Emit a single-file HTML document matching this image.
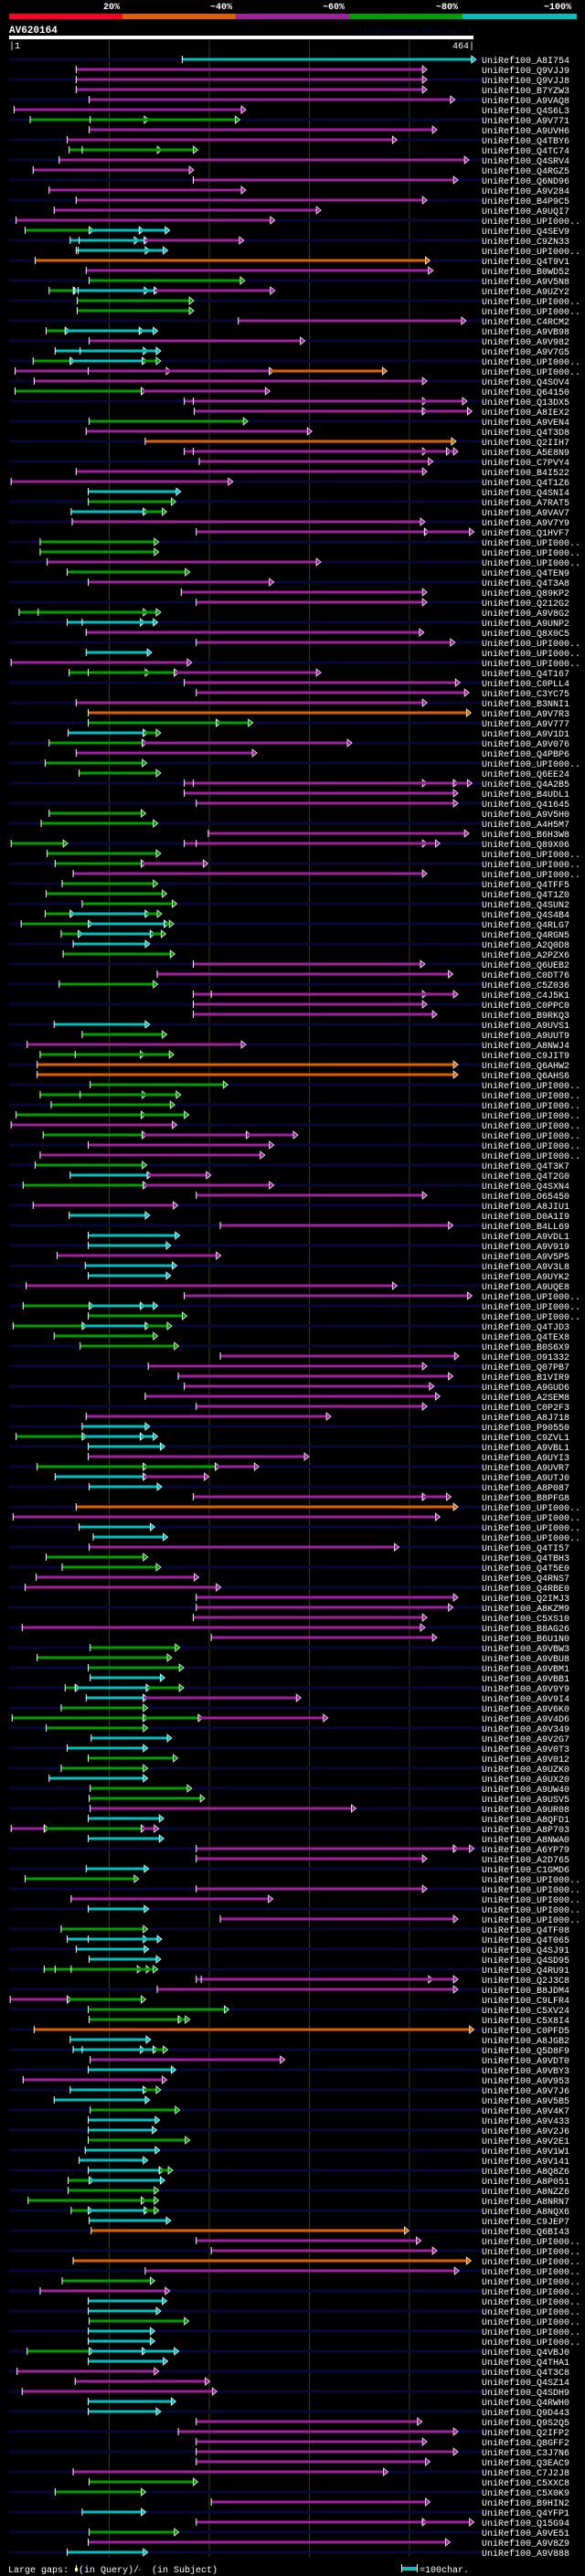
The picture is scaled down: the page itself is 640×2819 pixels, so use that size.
<!DOCTYPE html>
<html><head><meta charset="utf-8"><style>
html,body{margin:0;padding:0;background:#000;}
svg{display:block;}
text{font-family:"Liberation Mono",monospace;}
</style></head><body>
<svg id="chart" width="640" height="2819" viewBox="0 0 640 2819" xmlns="http://www.w3.org/2000/svg">
<rect x="0" y="0" width="640" height="2819" fill="#000"/>
<g font-weight="bold" font-size="10" fill="#fff">
<text x="113" y="10">20%</text>
<text x="230" y="10">~40%</text>
<text x="353" y="10">~60%</text>
<text x="477" y="10">~80%</text>
<text x="595" y="10">~100%</text>
<rect x="10" y="15" width="124" height="6" fill="#ff0020"/>
<rect x="134" y="15" width="124" height="6" fill="#e06000"/>
<rect x="258" y="15" width="124" height="6" fill="#a020a0"/>
<rect x="382" y="15" width="124" height="6" fill="#00a000"/>
<rect x="506" y="15" width="125" height="6" fill="#00c0c0"/>
</g>
<text x="10" y="36" font-size="11" font-weight="bold" fill="#fff">AV620164</text>
<text x="516" y="37" font-size="9" fill="#0a0a40" text-anchor="end">AlignView.pm Beta rel.7</text>
<rect x="10" y="39" width="508" height="4" fill="#fff"/>
<text x="10" y="53" font-size="10" fill="#fff">|1</text>
<text x="519" y="53" font-size="10" fill="#fff" text-anchor="end">464|</text>
<g id="grid"></g>
<g id="rows"></g>
<g font-size="10" fill="#fff">
<text x="9" y="2815">Large gaps:</text>
<rect x="82" y="2810" width="3" height="4" fill="#ffff80"/>
<rect x="83" y="2807" width="1" height="3" fill="#ffff80"/>
<text x="86" y="2815">(in Query)/</text>
<text x="150" y="2815" fill="#00c0c0">-</text>
<text x="166" y="2815">(in Subject)</text>
<rect x="439" y="2809" width="17" height="4" fill="#00c0c0"/>
<rect x="439" y="2806" width="1" height="9" fill="#fff"/>
<rect x="456" y="2806" width="1" height="9" fill="#fff"/>
<text x="459" y="2815">=100char.</text>
</g>
</svg>
<script>
const queryLength = 464;
const gridTicks = [100, 200, 300, 400];
const colorKeys = {c:"#00c0c0", g:"#00a000", m:"#a020a0", o:"#e06000", r:"#ff0020"};
const hitIds = ["A8I754","Q9VJJ9","Q9VJJ8","B7YZW3","A9VAQ8","Q4S6L3","A9V771","A9UVH6","Q4TBY6","Q4TC74","Q4SRV4","Q4RGZ5","Q6ND96","A9V284","B4P9C5","A9UQI7","UPI000..","Q4SEV9","C9ZN33","UPI000..","Q4T9V1","B0WD52","A9V5N8","A9UZY2","UPI000..","UPI000..","C4RCM2","A9VB98",
"A9V982","A9V7G5","UPI000..","UPI000..","Q4SOV4","Q64150","Q13DX5","A8IEX2","A9VEN4","Q4T3D8","Q2IIH7","A5E8N9","C7PVY4","B4I522","Q4T1Z6","Q4SNI4","A7RAT5","A9VAV7","A9V7Y9","Q1HVF7","UPI000..","UPI000..","UPI000..","Q4TEN9","Q4T3A8","Q89KP2","Q212G2","A9V8G2",
"A9UNP2","Q8X0C5","UPI000..","UPI000..","UPI000..","Q4T167","C0PLL4","C3YC75","B3NNI1","A9V7R3","A9V777","A9V1D1","A9V076","Q4PBP6","UPI000..","Q6EE24","Q4A2B5","B4UDL1","Q41645","A9V5H0","A4H5M7","B6H3W8","Q89X06","UPI000..","UPI000..","UPI000..","Q4TFF5","Q4T1Z0",
"Q4SUN2","Q4S4B4","Q4RLG7","Q4RGN5","A2Q0D8","A2PZX6","Q6UEB2","C0DT76","C5Z036","C4J5K1","C0PPC0","B9RKQ3","A9UVS1","A9UUT9","A8NWJ4","C9JIT9","Q6AHW2","Q6AHS6","UPI000..","UPI000..","UPI000..","UPI000..","UPI000..","UPI000..","UPI000..","UPI000..","Q4T3K7","Q4T2G0",
"Q4SXN4","O65450","A8JIU1","D0A1I9","B4LL69","A9VDL1","A9V919","A9V5P5","A9V3L8","A9UYK2","A9UQE8","UPI000..","UPI000..","UPI000..","Q4TJD3","Q4TEX8","B0S6X9","O91332","Q07PB7","B1VIR9","A9GUD6","A2SEM8","C0P2F3","A8J718","P90550","C9ZVL1","A9VBL1","A9UYI3",
"A9UVR7","A9UTJ0","A8P087","B8PFG8","UPI000..","UPI000..","UPI000..","UPI000..","Q4TI57","Q4TBH3","Q4T5E0","Q4RNS7","Q4RBE0","Q2IMJ3","A8KZM9","C5XS10","B8AG26","B6U1N0","A9VBW3","A9VBU8","A9VBM1","A9VBB1","A9V9Y9","A9V9I4","A9V6K0","A9V4D6","A9V349","A9V2G7",
"A9V0T3","A9V012","A9UZK0","A9UX20","A9UW40","A9USV5","A9UR08","A8QFD1","A8P703","A8NWA0","A6YP79","A2D765","C1GMD6","UPI000..","UPI000..","UPI000..","UPI000..","UPI000..","Q4TF08","Q4T065","Q4SJ91","Q4SD95","Q4RU91","Q2J3C8","B8JDM4","C9LFR4","C5XV24","C5X8I4",
"C0PFD5","A8JGB2","Q5D8F9","A9VDT0","A9VBY3","A9V953","A9V7J6","A9V5B5","A9V4K7","A9V433","A9V2J6","A9V2E1","A9V1W1","A9V141","A8Q8Z6","A8P051","A8NZZ6","A8NRN7","A8NQX6","C9JEP7","Q6BI43","UPI000..","UPI000..","UPI000..","UPI000..","UPI000..","UPI000..","UPI000..",
"UPI000..","UPI000..","UPI000..","UPI000..","Q4VBJ0","Q4THA1","Q4T3C8","Q4SZ14","Q4SDH9","Q4RWH0","Q9D443","Q9S2Q5","Q2IFP2","Q8GFF2","C3J7N6","Q3EAC9","C7J2J8","C5XXC8","C5X0K9","B9HIN2","Q4YFP1","Q15G94","A9VE51","A9V8Z9","A9V888"];
const hitHsps = [
[["c",173,462]],[["m",67,413]],[["m",67,413]],[["m",67,413]],[["m",80,441]],[["m",5,232]],[["g",21,135],["g",81,226]],[["m",80,423]],[["m",58,383]],[["g",60,148],["g",73,184]],
[["m",50,455]],[["m",24,180]],[["m",184,444]],[["m",40,232]],[["m",67,413]],[["m",45,307]],[["m",7,261]],[["g",16,80],["c",80,130],["c",130,156]],[["c",61,125],["c",70,135],["m",135,230]],[["c",67,136],["c",69,154]],
[["o",26,416]],[["m",77,419]],[["g",80,231]],[["g",40,64],["c",65,135],["c",69,145],["m",145,261]],[["g",68,180]],[["g",68,180]],[["m",229,452]],[["g",37,56],["c",56,130],["c",130,144]],
[["m",80,291]],[["c",46,134],["c",71,147]],[["g",24,61],["c",61,133],["g",133,147]],[["m",6,157],["m",79,260],["o",260,373]],[["m",25,413]],[["g",6,132],["m",132,256]],[["m",175,413],["m",184,453]],[["m",185,413],["m",413,458]],[["g",80,234]],[["m",77,298]],
[["o",136,442]],[["m",175,413],["m",184,437],["m",437,444]],[["m",190,419]],[["m",67,413]],[["m",2,219]],[["c",79,167]],[["g",79,162]],[["c",62,134],["g",134,153]],[["m",63,411]],[["m",187,415],["m",415,460]],
[["g",31,145]],[["g",31,145]],[["m",38,307]],[["g",58,176]],[["m",79,260]],[["m",172,413]],[["m",187,413]],[["g",10,134],["g",29,147]],
[["c",58,131],["c",73,144]],[["m",77,410]],[["m",187,441]],[["c",77,138]],[["m",2,178]],[["g",60,136],["g",79,165],["m",165,307]],[["m",175,446]],[["m",187,455]],[["m",67,413]],[["o",79,457]],
[["g",79,207],["g",207,239]],[["c",59,134],["g",134,147]],[["g",40,133],["m",133,338]],[["m",67,243]],[["g",36,133]],[["g",70,147]],[["m",175,413],["m",184,444],["m",444,458]],[["m",175,444]],[["m",187,444]],[["g",40,132]],
[["g",32,144]],[["m",199,455]],[["g",2,54],["m",175,413],["m",187,426]],[["g",38,147]],[["g",46,132],["m",132,194]],[["m",64,413]],[["g",53,144]],[["g",37,153]],
[["g",73,163]],[["g",36,61],["c",61,136],["g",136,148]],[["g",12,79],["c",79,155],["g",155,160]],[["g",52,69],["c",69,141],["g",141,152]],[["c",64,136]],[["g",54,161]],[["m",184,411]],[["m",148,439]],[["g",50,144]],[["m",184,413],["m",202,444]],
[["m",184,413]],[["m",184,423]],[["c",45,136]],[["g",73,153]],[["m",18,232]],[["g",31,131],["g",66,160]],[["o",28,444]],[["o",28,444]],[["g",81,214]],[["g",31,133],["g",71,167]],
[["g",42,161]],[["g",7,132],["g",132,175]],[["m",2,163]],[["g",34,133],["m",133,237],["m",237,284]],[["m",79,260]],[["m",31,251]],[["g",26,133]],[["c",61,138],["m",138,197]],
[["g",14,134],["m",134,260]],[["m",187,413]],[["m",24,164]],[["c",60,136]],[["m",211,439]],[["c",79,166]],[["c",79,157]],[["m",48,207]],[["c",76,163]],[["c",79,157]],
[["m",17,383]],[["m",175,458]],[["g",14,80],["c",80,131],["c",131,144]],[["g",79,173]],[["g",4,73],["c",73,136],["g",136,158]],[["g",45,144]],[["g",71,165]],[["m",211,445]],[["m",139,413]],[["m",169,439]],
[["m",175,420]],[["m",136,426]],[["m",187,413]],[["m",77,317]],[["c",73,136]],[["g",7,73],["c",73,131],["c",131,144]],[["c",79,151]],[["m",79,295]],
[["g",28,134],["g",134,206],["m",206,245]],[["c",46,134],["m",134,195]],[["c",80,148]],[["m",184,413],["m",413,437]],[["o",67,444]],[["m",4,426]],[["c",70,141]],[["c",84,154]],[["m",80,385]],[["g",37,134]],
[["g",53,147]],[["m",27,185]],[["m",16,207]],[["m",187,444]],[["m",187,439]],[["m",184,413]],[["m",13,411]],[["m",202,423]],[["g",81,166]],[["g",28,158]],
[["g",79,170]],[["c",81,151]],[["g",56,66],["c",66,137],["g",137,170]],[["c",77,134],["m",134,287]],[["g",52,134]],[["g",3,134],["g",134,189],["m",189,314]],[["g",37,134]],[["c",82,158]],
[["c",58,134]],[["g",79,164]],[["g",52,134]],[["c",40,134]],[["g",81,178]],[["g",80,191]],[["m",81,342]],[["c",79,150]],[["m",2,35],["g",35,132],["m",132,145]],[["c",79,150]],
[["m",187,444],["m",444,460]],[["m",187,413]],[["c",77,135]],[["g",16,125]],[["m",187,413]],[["m",62,259]],[["c",79,135]],[["m",211,444]],[["g",52,134]],[["c",58,134],["c",79,148]],
[["c",67,135]],[["c",80,147]],[["g",35,128],["g",46,137],["g",62,144]],[["m",187,419],["m",192,444]],[["m",148,444]],[["m",1,58],["g",58,132]],[["g",79,215]],[["g",80,169],["g",169,176]],
[["o",25,460]],[["c",61,137]],[["c",64,131],["c",73,144],["g",144,154]],[["m",81,271]],[["c",79,162]],[["m",14,153]],[["c",61,134],["g",134,147]],[["c",45,136]],[["g",81,166]],[["c",79,146]],
[["c",79,143]],[["g",79,176]],[["c",76,146]],[["c",70,134]],[["c",79,150],["g",150,159]],[["g",59,80],["c",80,151]],[["g",59,145]],[["g",19,132],["g",132,145]],[["g",62,79],["c",79,135],["g",135,145]],[["c",80,157]],
[["o",82,395]],[["m",187,407]],[["m",202,423]],[["o",64,457]],[["m",136,445]],[["g",53,141]],[["m",31,156]],[["c",79,153]],
[["c",79,147]],[["g",80,175]],[["c",79,141]],[["c",79,141]],[["g",18,80],["c",80,133],["c",133,165]],[["c",79,154]],[["m",8,145]],[["m",66,196]],[["m",13,203]],[["c",79,162]],
[["c",79,147]],[["m",187,408]],[["m",169,444]],[["m",187,413]],[["m",187,444]],[["m",187,416]],[["m",64,374]],[["g",80,184]],[["g",46,132]],[["m",202,416]],
[["c",73,132]],[["m",187,413],["m",413,460]],[["g",80,165]],[["m",79,436]],[["c",58,134]]
];
const NS = "http://www.w3.org/2000/svg";
const X0 = 10, X1 = 518, ROW0 = 65, ROWH = 11;
function xScale(r){ return X0 + (r/queryLength)*(X1-X0); }
function yRow(i){ return ROW0 + i*ROWH; }
function mk(tag, attrs, parent){ const e=document.createElementNS(NS,tag); for(const k in attrs) e.setAttribute(k,attrs[k]); parent.appendChild(e); return e; }
const grid = document.getElementById('grid');
const rowsG = document.getElementById('rows');
const gridBottom = yRow(hitIds.length-1)+5;
gridTicks.forEach(t=>{
  const l = mk('line',{x1:xScale(t),x2:xScale(t),y1:44,y2:gridBottom,stroke:'#3a3a12','stroke-width':1},grid);
  
  
});
hitIds.forEach((id,i)=>{
  const y = yRow(i);
  const g = mk('g',{},rowsG);
  
  
  if(i%2===0){
    const bg = mk('rect',{x:10,y:y-1.5,width:517,height:3,fill:'#07073a'},g);
    
    
  }
  (hitHsps[i]||[]).forEach(h=>{
    const col = colorKeys[h[0]];
    const xs = xScale(h[1]), xe = xScale(h[2]);
    const bar = mk('rect',{x:xs,y:y-1.5,width:Math.max(1,xe-xs),height:3,fill:col},g);
    
    
    const tk = mk('rect',{x:xs-0.5,y:y-4,width:1,height:8,fill:'#fff'},g);
    
    
    const ar = mk('polygon',{points:`${xe},${y-4} ${xe+5},${y} ${xe},${y+4}`,fill:col,stroke:'#fff','stroke-width':0.8},g);
    
    
  });
  const t = mk('text',{x:527,y:y+4,'font-size':10,fill:'#fff'},g);
  t.textContent = 'UniRef100_'+id;
  
  
});
</script>
</body></html>
